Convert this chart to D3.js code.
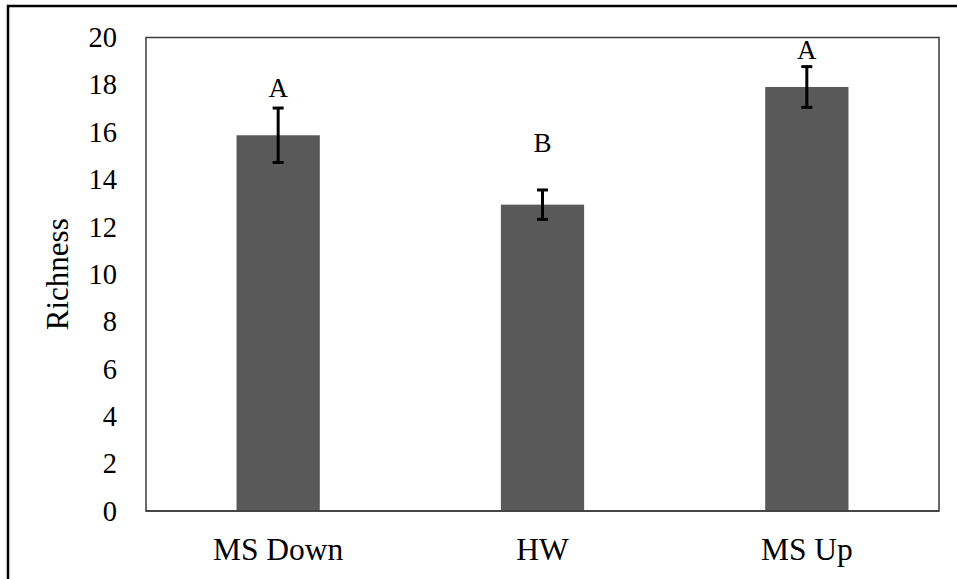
<!DOCTYPE html>
<html>
<head>
<meta charset="utf-8">
<script src="https://cdn.jsdelivr.net/npm/d3@7"></script>
<style>
  body { margin: 0; background: #fff; }
  text { font-family: "Liberation Serif", "Times New Roman", serif; fill: #000; }
</style>
</head>
<body>
<div id="chart"></div>
<script>
// Data
var categories = ["MS Down", "HW", "MS Up"];
var means = [15.87, 12.94, 17.91];
var errors = [1.15, 0.62, 0.86];
var letters = ["A", "B", "A"];
var letterPos = [17.48, 15.18, 19.1];   // in data units
var yTicks = [0, 2, 4, 6, 8, 10, 12, 14, 16, 18, 20];

// Size
var svgWidth = 957, svgHeight = 579;
var plot = {left: 146, top: 37.5, right: 939, bottom: 511};

var svg = d3.select("#chart").append("svg")
    .attr("width", svgWidth)
    .attr("height", svgHeight);

// Outer frame
svg.append("rect")
    .attr("x", 8).attr("y", 6)
    .attr("width", svgWidth).attr("height", svgHeight)
    .attr("fill", "none")
    .attr("stroke", "#000")
    .attr("stroke-width", 2.5);

var x = d3.scaleBand()
    .domain(categories)
    .range([plot.left, plot.right])
    .padding(0);

var y = d3.scaleLinear()
    .domain([0, 20])
    .range([plot.bottom, plot.top]);

var barWidth = x.bandwidth() * 0.315;

// Plot area border
svg.append("rect")
    .attr("x", plot.left).attr("y", plot.top)
    .attr("width", plot.right - plot.left)
    .attr("height", plot.bottom - plot.top)
    .attr("fill", "none")
    .attr("stroke", "#3a3a3a")
    .attr("stroke-width", 1.5);

// Bars
svg.append("g")
    .selectAll("rect")
    .data(categories)
    .join("rect")
        .attr("x", d => x(d) + x.bandwidth() / 2 - barWidth / 2)
        .attr("width", barWidth)
        .attr("y", (d, i) => y(means[i]))
        .attr("height", (d, i) => y(0) - y(means[i]))
        .attr("fill", "#595959");

// Bottom axis line over bars
svg.append("line")
    .attr("x1", plot.left).attr("x2", plot.right)
    .attr("y1", plot.bottom).attr("y2", plot.bottom)
    .attr("stroke", "#3a3a3a")
    .attr("stroke-width", 1.5);

// Error bars
var capW = 11;
var eb = svg.append("g")
    .attr("stroke", "#000")
    .attr("stroke-width", 3)
    .selectAll("g")
    .data(categories)
    .join("g");

eb.append("line")
    .attr("x1", d => x(d) + x.bandwidth() / 2)
    .attr("x2", d => x(d) + x.bandwidth() / 2)
    .attr("y1", (d, i) => y(means[i] + errors[i]))
    .attr("y2", (d, i) => y(means[i] - errors[i]));
eb.append("line")
    .attr("x1", d => x(d) + x.bandwidth() / 2 - capW / 2)
    .attr("x2", d => x(d) + x.bandwidth() / 2 + capW / 2)
    .attr("y1", (d, i) => y(means[i] + errors[i]))
    .attr("y2", (d, i) => y(means[i] + errors[i]));
eb.append("line")
    .attr("x1", d => x(d) + x.bandwidth() / 2 - capW / 2)
    .attr("x2", d => x(d) + x.bandwidth() / 2 + capW / 2)
    .attr("y1", (d, i) => y(means[i] - errors[i]))
    .attr("y2", (d, i) => y(means[i] - errors[i]));

// Significance letters
svg.append("g")
    .selectAll("text")
    .data(categories)
    .join("text")
        .attr("x", d => x(d) + x.bandwidth() / 2)
        .attr("y", (d, i) => y(letterPos[i]))
        .attr("text-anchor", "middle")
        .style("font-size", "27px")
        .text((d, i) => letters[i]);

// Y axis labels
var yAxis = d3.axisLeft(y)
    .tickValues(yTicks)
    .tickSize(0)
    .tickPadding(29);
var gy = svg.append("g")
    .attr("transform", "translate(" + plot.left + ",0)")
    .call(yAxis);
gy.select(".domain").remove();
gy.selectAll("text")
    .style("font-family", "'Liberation Serif', serif")
    .style("font-size", "28.5px")
    .attr("fill", "#000");

// X axis labels
var xAxis = d3.axisBottom(x).tickSize(0).tickPadding(27);
var gx = svg.append("g")
    .attr("transform", "translate(0," + plot.bottom + ")")
    .call(xAxis);
gx.select(".domain").remove();
gx.selectAll("text")
    .style("font-family", "'Liberation Serif', serif")
    .style("font-size", "31.5px")
    .attr("fill", "#000");

// Y title
svg.append("text")
    .attr("transform", "translate(68," + ((plot.top + plot.bottom) / 2) + ") rotate(-90)")
    .attr("text-anchor", "middle")
    .style("font-size", "31px")
    .text("Richness");
</script>
</body>
</html>
